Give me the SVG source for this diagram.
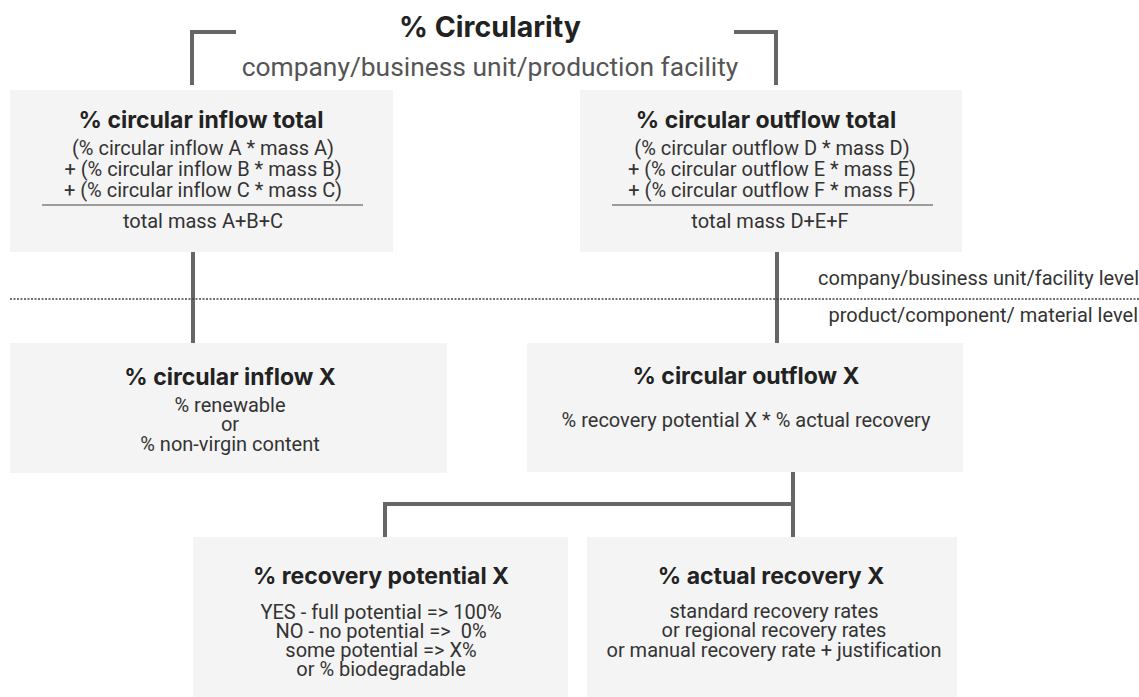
<svg xmlns="http://www.w3.org/2000/svg" width="1139" height="697" viewBox="0 0 1139 697">
<style>
text{font-family:Roboto,"Liberation Sans",sans-serif;font-feature-settings:"liga" 0,"calt" 0;font-variant-ligatures:none}
.box{fill:#f4f4f4}
.t{fill:#222;text-anchor:middle}
.h{font-family:Inter,Roboto,"Liberation Sans",sans-serif;font-size:23px;font-weight:700}
.b{font-size:20px;fill:#333}
.lvl{font-size:20px;fill:#333;text-anchor:end}
.c{fill:none;stroke:#666;stroke-width:4}
.rule{stroke:#444;stroke-width:1.2}
</style>
<rect width="1139" height="697" fill="#fff"/>
<g id="title">
<text class="t" x="490" y="37" style="font-family:Inter,Roboto,sans-serif;font-size:28.5px;font-weight:700">% Circularity</text>
<text class="t" x="490" y="76" style="font-size:26.4px;fill:#555">company/business unit/production facility</text>
</g>
<g id="connectors">
<path class="c" d="M192 85V32H236"/>
<path class="c" d="M734 32H776V85"/>
<path class="c" d="M193 252V343"/>
<path class="c" d="M777 252V343"/>
<path class="c" d="M793 472V537M793 504H385V537"/>
</g>
<g id="levels">
<line x1="10" y1="299" x2="1139" y2="299" stroke="#444" stroke-width="1.5" stroke-dasharray="2 1.5"/>
<text class="lvl" x="1139" y="285">company/business unit/facility level</text>
<text class="lvl" x="1138" y="322">product/component/ material level</text>
</g>
<g id="inflow-total">
<rect class="box" x="10" y="90" width="383" height="162"/>
<text class="t h" x="201" y="128">% circular inflow total</text>
<text class="t b" x="203" y="155">(% circular inflow A * mass A)</text>
<text class="t b" x="203" y="176">+ (% circular inflow B * mass B)</text>
<text class="t b" x="203" y="197">+ (% circular inflow C * mass C)</text>
<line class="rule" x1="42" y1="205" x2="363" y2="205"/>
<text class="t b" x="203" y="228">total mass A+B+C</text>
</g>
<g id="outflow-total">
<rect class="box" x="580" y="90" width="382" height="162"/>
<text class="t h" x="766" y="128">% circular outflow total</text>
<text class="t b" x="772" y="155">(% circular outflow D * mass D)</text>
<text class="t b" x="772" y="176">+ (% circular outflow E * mass E)</text>
<text class="t b" x="772" y="197">+ (% circular outflow F * mass F)</text>
<line class="rule" x1="612" y1="205" x2="933" y2="205"/>
<text class="t b" x="770" y="228">total mass D+E+F</text>
</g>
<g id="inflow-x">
<rect class="box" x="10" y="343" width="437" height="130"/>
<text class="t h" x="230" y="385">% circular inflow X</text>
<text class="t b" x="230" y="412">% renewable</text>
<text class="t b" x="230" y="431">or</text>
<text class="t b" x="230" y="451">% non-virgin content</text>
</g>
<g id="outflow-x">
<rect class="box" x="527" y="343" width="436" height="129"/>
<text class="t h" x="746" y="384">% circular outflow X</text>
<text class="t b" x="746" y="427">% recovery potential X * % actual recovery</text>
</g>
<g id="recovery-potential">
<rect class="box" x="193" y="537" width="375" height="160"/>
<text class="t h" x="381" y="584">% recovery potential X</text>
<text class="t b" x="381" y="619">YES - full potential =&gt; 100%</text>
<text class="t b" x="381" y="638">NO - no potential =&gt;&#160; 0%</text>
<text class="t b" x="381" y="657">some potential =&gt; X%</text>
<text class="t b" x="381" y="676">or % biodegradable</text>
</g>
<g id="actual-recovery">
<rect class="box" x="587" y="537" width="370" height="160"/>
<text class="t h" x="771" y="584">% actual recovery X</text>
<text class="t b" x="774" y="618">standard recovery rates</text>
<text class="t b" x="774" y="637">or regional recovery rates</text>
<text class="t b" x="774" y="657">or manual recovery rate + justification</text>
</g>
</svg>
